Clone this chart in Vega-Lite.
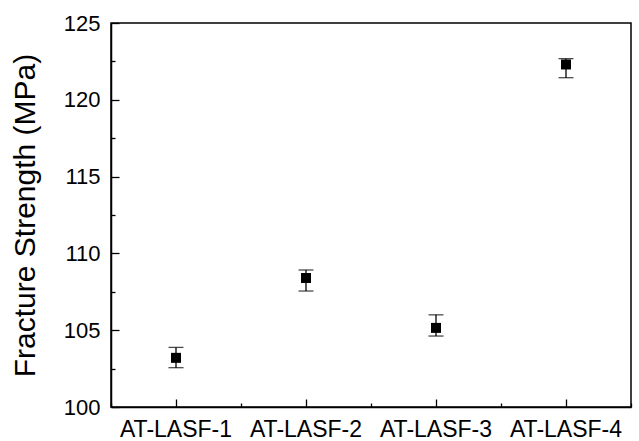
{
  "$schema": "https://vega.github.io/schema/vega-lite/v6.json",
  "autosize": "none",
  "padding": {"left": 111, "top": 23, "right": 8, "bottom": 34},
  "width": 520,
  "height": 384,
  "background": "white",
  "config": {
    "view": {"stroke": "black", "strokeWidth": 1.5},
    "font": "Liberation Sans",
    "axis": {"domainColor": "black", "domainWidth": 1.5, "tickColor": "black", "tickWidth": 1.3, "labelColor": "black", "titleColor": "black", "grid": false, "labelFont": "Liberation Sans", "titleFont": "Liberation Sans", "titleFontWeight": "normal"}
  },
  "data": {"values": [
    {"sample": "AT-LASF-1", "strength": 103.2, "lower": 102.56, "upper": 103.88},
    {"sample": "AT-LASF-2", "strength": 108.4, "lower": 107.55, "upper": 108.92},
    {"sample": "AT-LASF-3", "strength": 105.15, "lower": 104.62, "upper": 106.0},
    {"sample": "AT-LASF-4", "strength": 122.3, "lower": 121.44, "upper": 122.68}
  ]},
  "layer": [
    {
      "mark": {"type": "errorbar", "ticks": {"size": 15, "color": "black", "thickness": 1.3}, "rule": {"color": "black", "strokeWidth": 1.3}},
      "encoding": {
        "x": {"field": "sample", "type": "nominal", "sort": null,
          "scale": {"type": "band", "paddingInner": 0, "paddingOuter": 0},
          "axis": {"orient": "bottom", "title": null, "labels": false, "tickBand": "extent", "tickSize": -4, "domain": false}},
        "y": {"field": "lower", "type": "quantitative",
          "scale": {"domain": [100, 125], "nice": false, "zero": false},
          "axis": {"orient": "left", "title": null, "labels": false, "values": [102.5, 107.5, 112.5, 117.5, 122.5], "tickSize": -4, "domain": false}},
        "y2": {"field": "upper"}
      }
    },
    {
      "mark": {"type": "square", "size": 100, "filled": true, "color": "black", "opacity": 1},
      "encoding": {
        "x": {"field": "sample", "type": "nominal", "sort": null,
          "axis": {"orient": "bottom", "title": null, "labelAngle": 0, "labelFontSize": 23, "labelPadding": 19, "tickSize": -8, "tickBand": "center"}},
        "y": {"field": "strength", "type": "quantitative",
          "axis": {"orient": "left", "title": "Fracture Strength (MPa)", "titleFontSize": 30, "titlePadding": 23, "labelFontSize": 22, "labelPadding": 19, "tickSize": -8, "values": [100, 105, 110, 115, 120, 125]}}
      }
    }
  ],
  "resolve": {"axis": {"x": "independent", "y": "independent"}}
}
